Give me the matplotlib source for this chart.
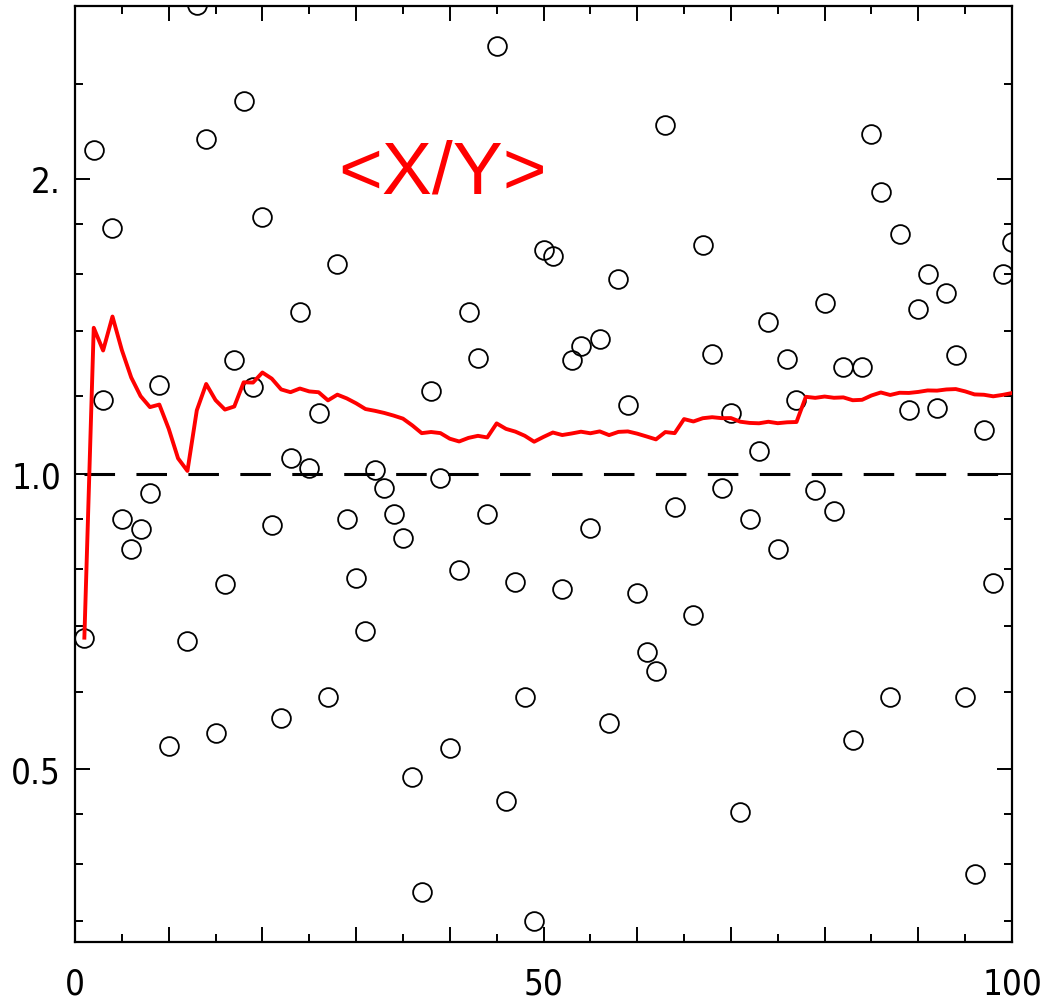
import numpy as np
import matplotlib
matplotlib.use("Agg")
import matplotlib.pyplot as plt
from matplotlib import font_manager as fm
from matplotlib.ticker import FixedLocator, FixedFormatter, NullFormatter

# --- DATOS ---
# cociente X/Y de cada muestra (x = 1..100); algunos caen fuera del rango del eje
muestras = np.arange(1, 101)
cocientes = [
    0.681, 2.138, 1.190, 1.780, 0.899, 0.838, 0.878, 0.956, 1.233, 0.528,
    0.29, 0.676, 3.01, 2.197, 0.545, 0.773, 1.307, 2.403, 1.228, 1.830,
    0.888, 0.564, 1.038, 1.464, 1.014, 1.154, 0.592, 1.639, 0.899, 0.784,
    0.692, 1.010, 0.968, 0.911, 0.861, 0.491, 0.375, 1.214, 0.991, 0.526,
    0.798, 1.464, 1.314, 0.911, 2.733, 0.464, 0.776, 0.592, 0.350, 1.691,
    1.669, 0.764, 1.307, 1.349, 0.881, 1.373, 0.558, 1.579, 1.175, 0.757,
    0.659, 0.630, 2.270, 0.925, 3.5, 0.718, 1.712, 1.325, 0.968, 1.154,
    0.452, 0.899, 1.056, 1.430, 0.839, 1.310, 1.190, 6.5, 0.964, 1.493,
    0.916, 1.287, 0.535, 1.287, 2.223, 1.939, 0.592, 1.757, 1.161, 1.473,
    1.598, 1.167, 1.528, 1.322, 0.592, 0.391, 1.109, 0.775, 1.598, 1.725,
]
referencia = 1.0

y_mayores = [0.5, 1.0, 2.0]
y_etiquetas = ["0.5", "1.0", "2."]
y_menores = [0.35, 0.4, 0.45, 0.6, 0.7, 0.8, 0.9, 1.2, 1.4, 1.6, 1.8, 2.5]
x_mayores = list(range(0, 101, 10))
x_etiquetas = ["0", "", "", "", "", "50", "", "", "", "", "100"]
x_menores = list(range(5, 100, 10))

# media acumulada <X/Y>
cocientes = np.array(cocientes)
media_acum = np.cumsum(cocientes) / muestras


# --- FUENTE ESTRECHA PARA LOS EJES (si hay alguna instalada) ---
def buscar_estrecha():
    candidatas = []
    for f in fm.fontManager.ttflist:
        nombre = f.fname.lower()
        if f.style != "normal" or "bold" in nombre or "italic" in nombre:
            continue
        if "narrow" in nombre or "condensed" in nombre:
            if "light" in nombre or "black" in nombre or "semi" in nombre \
                    or "extra" in nombre or "medium" in nombre or "thin" in nombre:
                continue
            candidatas.append(f)
    orden = ["liberation", "dejavu", "roboto", "noto", "open"]
    candidatas.sort(key=lambda f: next((i for i, o in enumerate(orden)
                                        if o in f.fname.lower()), 99))
    return candidatas[0] if candidatas else None


estrecha = buscar_estrecha()
if estrecha is not None:
    plt.rcParams["font.family"] = [estrecha.name, "DejaVu Sans"]
    plt.rcParams["font.stretch"] = estrecha.stretch
else:
    plt.rcParams["font.family"] = ["DejaVu Sans"]

# --- FIGURA ---
fig = plt.figure(figsize=(10.6, 10.03), dpi=100)
ax = fig.add_axes([75 / 1060, 1 - 943 / 1003, 937 / 1060, 936 / 1003])
ax.set_yscale("log")
ax.set_xlim(0, 100)
ax.set_ylim(1 / 3, 3)

ax.plot(muestras, np.full(len(muestras), referencia), color="black", lw=2.2,
        dashes=(10, 7), zorder=2)
ax.plot(muestras, cocientes, "o", ms=13.5, mfc="none", mec="black", mew=1.3,
        zorder=3)
ax.plot(muestras, media_acum, color="#ff0000", lw=2.8, zorder=4)

ax.text(0.392, 0.801, "<X/Y>", transform=ax.transAxes, color="#ff0000",
        fontsize=54, family=["Liberation Sans", "DejaVu Sans"],
        stretch="normal", ha="center", va="baseline")

# ejes y marcas
ax.xaxis.set_major_locator(FixedLocator(x_mayores))
ax.xaxis.set_major_formatter(FixedFormatter(x_etiquetas))
ax.xaxis.set_minor_locator(FixedLocator(x_menores))
ax.yaxis.set_major_locator(FixedLocator(y_mayores))
ax.yaxis.set_major_formatter(FixedFormatter(y_etiquetas))
ax.yaxis.set_minor_locator(FixedLocator(y_menores))
ax.yaxis.set_minor_formatter(NullFormatter())

ax.tick_params(which="both", direction="in", top=True, right=True,
               width=1.4, labelsize=25)
ax.tick_params(which="major", length=10.5)
ax.tick_params(which="minor", length=5.8)
ax.tick_params(axis="x", pad=18)
ax.tick_params(axis="y", pad=10)
for s in ax.spines.values():
    s.set_linewidth(1.6)

fig.savefig("out.png", dpi=100)
